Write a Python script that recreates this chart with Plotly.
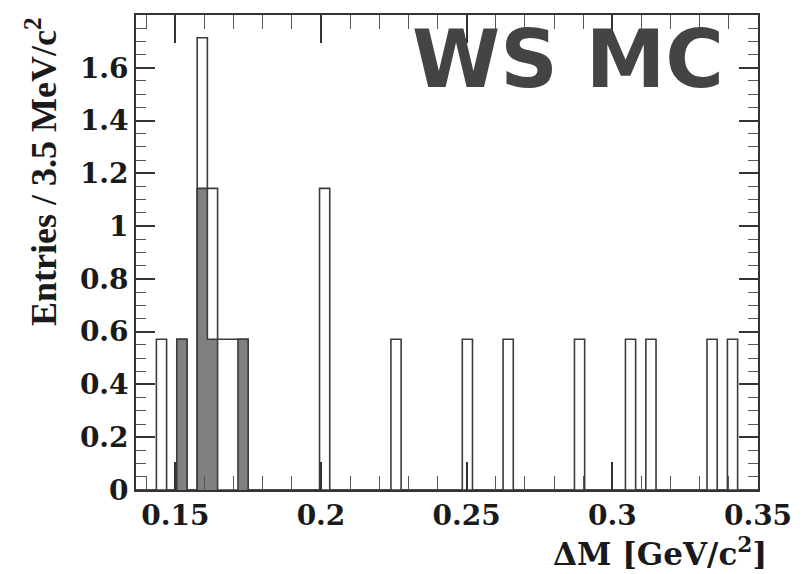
import numpy as np
import plotly.graph_objects as go

# Histogram binning: 3.5 MeV/c^2 bins over the Delta-M window
x_min, x_max = 0.1365, 0.35
bin_width = 0.0035

# All wrong-sign MC candidates: low edge of each non-empty bin and its content
all_bin_lo = [0.1435, 0.1505, 0.1575, 0.1610, 0.1645, 0.1680, 0.1715,
              0.1995, 0.2240, 0.2485, 0.2625, 0.2870, 0.3045, 0.3115,
              0.3325, 0.3395]
all_vals = [0.571, 0.571, 1.714, 1.143, 0.571, 0.571, 0.571,
            1.143, 0.571, 0.571, 0.571, 0.571, 0.571, 0.571,
            0.571, 0.571]

# Subset (shaded histogram)
sel_bin_lo = [0.1505, 0.1575, 0.1610, 0.1715]
sel_vals = [0.571, 1.143, 0.571, 0.571]

x_tickvals = [0.15, 0.20, 0.25, 0.30, 0.35]
x_ticktext = ["0.15", "0.2", "0.25", "0.3", "0.35"]
y_tickvals = [0, 0.2, 0.4, 0.6, 0.8, 1.0, 1.2, 1.4, 1.6]
y_ticktext = ["0", "0.2", "0.4", "0.6", "0.8", "1", "1.2", "1.4", "1.6"]

n_bins = int(round((x_max - x_min) / bin_width))
edges = x_min + bin_width * np.arange(n_bins + 1)


def fill_bins(lows, vals):
    content = np.zeros(n_bins)
    for lo, v in zip(lows, vals):
        content[int(round((lo - x_min) / bin_width))] = v
    return content


def step_xy(content):
    # step contour through the bin edges, closed back to zero at the right end
    xs = np.concatenate([edges, [edges[-1]]])
    ys = np.concatenate([content, [content[-1], 0.0]])
    return xs, ys


all_c = fill_bins(all_bin_lo, all_vals)
sel_c = fill_bins(sel_bin_lo, sel_vals)

line_col = "#3c3c3c"
fig = go.Figure()

xa, ya = step_xy(all_c)
fig.add_trace(go.Scatter(x=xa, y=ya, mode="lines", line_shape="hv",
                         line=dict(color=line_col, width=1.6),
                         hoverinfo="skip", showlegend=False))

xs, ys = step_xy(sel_c)
fig.add_trace(go.Scatter(x=xs, y=ys, mode="lines", line_shape="hv",
                         fill="tozeroy", fillcolor="#808082",
                         line=dict(color=line_col, width=1.6),
                         hoverinfo="skip", showlegend=False))

tick_font = dict(family="DejaVu Serif", size=28, color="#1a1a1a", weight="bold")

fig.update_xaxes(range=[x_min, x_max], showgrid=False, zeroline=False,
                 showline=True, linecolor="#333333", linewidth=1.6, mirror="ticks",
                 ticks="inside", ticklen=28, tickwidth=1.6, tickcolor="#333333",
                 tickvals=x_tickvals, ticktext=x_ticktext, tickfont=tick_font,
                 minor=dict(dtick=0.01, tick0=0.15, ticks="inside", ticklen=14,
                            tickwidth=1.4, tickcolor="#555555"))
fig.update_yaxes(range=[0, 1.8], showgrid=False, zeroline=False,
                 showline=True, linecolor="#333333", linewidth=1.6, mirror="ticks",
                 ticks="inside", ticklen=19, tickwidth=1.6, tickcolor="#333333",
                 tickvals=y_tickvals, ticktext=y_ticktext, tickfont=tick_font,
                 minor=dict(dtick=0.05, tick0=0, ticks="inside", ticklen=10,
                            tickwidth=1.4, tickcolor="#555555"))

fig.add_annotation(text="Entries / 3.5 MeV/c<sup>2</sup>", xref="paper", yref="paper",
                   x=-0.152, y=1.0, xanchor="center", yanchor="top", textangle=-90,
                   showarrow=False,
                   font=dict(family="Liberation Serif", size=36, color="#1a1a1a", weight="bold"))
fig.add_annotation(text="ΔM [GeV/c<sup>2</sup>]", xref="paper", yref="paper",
                   x=1.018, y=-0.131, xanchor="right", yanchor="middle",
                   showarrow=False,
                   font=dict(family="DejaVu Serif", size=31, color="#1a1a1a", weight="bold"))
fig.add_annotation(text="WS MC", xref="paper", yref="paper",
                   x=0.694, y=0.907, xanchor="center", yanchor="middle",
                   showarrow=False,
                   font=dict(family="DejaVu Sans", size=80, color="#444444", weight="bold"))

fig.update_layout(width=804, height=574, margin=dict(l=136, r=37, t=15, b=84),
                  paper_bgcolor="white", plot_bgcolor="white")

fig.write_html("out.html")
